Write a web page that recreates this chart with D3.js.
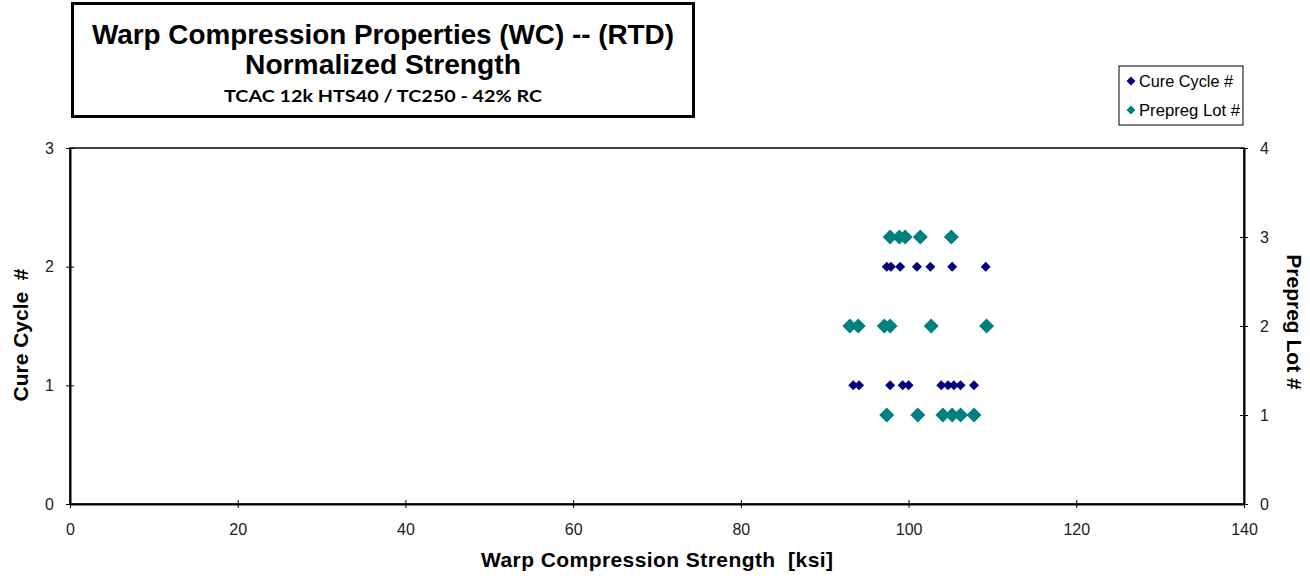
<!DOCTYPE html>
<html>
<head>
<meta charset="utf-8">
<script src="https://cdn.jsdelivr.net/npm/d3@7"></script>
<style>
  body { margin: 0; background: #fff; }
  text { font-family: "Liberation Sans", Arial, sans-serif; }
</style>
</head>
<body>
<div id="chart"></div>
<script>
"use strict";

// Cure cycle series (left axis)
var cureCycle1 = [93.4, 94.1, 97.8, 99.3, 100.0, 103.9, 104.7, 105.4, 106.2, 107.8];
var cureCycle2 = [97.4, 97.9, 99.0, 101.0, 102.6, 105.2, 109.2];
// Prepreg lot series (right axis)
var prepregLot1 = [97.4, 101.1, 104.1, 105.2, 106.2, 107.8];
var prepregLot2 = [93.0, 94.0, 97.1, 97.8, 102.7, 109.3];
var prepregLot3 = [97.8, 98.9, 99.6, 101.4, 105.1];

var xTicks = [0, 20, 40, 60, 80, 100, 120, 140];
var yLeftTicks = [0, 1, 2, 3];
var yRightTicks = [0, 1, 2, 3, 4];

var titleLines = ["Warp Compression Properties (WC) -- (RTD)", "Normalized Strength"];
var subTitle = "TCAC 12k HTS40 / TC250 - 42% RC";
var legendLabels = ["Cure Cycle #", "Prepreg Lot #"];
var colors = ["#000080", "#008080"];

var W = 1310, H = 576;
var margin = {top: 148, right: 66, bottom: 72, left: 70},
    width = W - margin.left - margin.right,
    height = H - margin.top - margin.bottom;

var svg = d3.select("#chart").append("svg")
    .attr("width", W)
    .attr("height", H);

var xScale = d3.scaleLinear().domain([0, 140]).range([0, width]);
var yLeft = d3.scaleLinear().domain([0, 3]).range([height, 0]);
var yRight = d3.scaleLinear().domain([0, 4]).range([height, 0]);

var g = svg.append("g")
    .attr("transform", "translate(" + margin.left + "," + margin.top + ")");

// plot frame
g.append("rect")
    .attr("width", width)
    .attr("height", height)
    .attr("fill", "none")
    .attr("stroke", "#000")
    .attr("stroke-width", 1.5);

function styleAxis(sel) {
    sel.select(".domain").attr("stroke", "#000").attr("stroke-width", 2);
    sel.selectAll(".tick line").attr("stroke", "#000").attr("stroke-width", 1);
    sel.selectAll(".tick text")
        .attr("fill", "#222")
        .style("font-size", "16px")
        .style("font-family", "'Liberation Sans', Arial, sans-serif");
}

var fmt = d3.format("d");

// ticks cross the axis line
var xAxis = d3.axisBottom(xScale).tickValues(xTicks).tickFormat(fmt)
    .tickSize(4).tickSizeOuter(0).tickPadding(16);
g.append("g")
    .attr("transform", "translate(0," + height + ")")
    .call(xAxis)
    .call(styleAxis)
    .call(function(a) {
        a.selectAll(".tick line").attr("y1", -4);
    });

var yAxisL = d3.axisLeft(yLeft).tickValues(yLeftTicks).tickFormat(fmt)
    .tickSize(4).tickSizeOuter(0).tickPadding(12);
g.append("g")
    .call(yAxisL)
    .call(styleAxis)
    .call(function(a) {
        a.selectAll(".tick line").attr("x1", 4);
    });

var yAxisR = d3.axisRight(yRight).tickValues(yRightTicks).tickFormat(fmt)
    .tickSize(4).tickSizeOuter(0).tickPadding(12);
g.append("g")
    .attr("transform", "translate(" + width + ",0)")
    .call(yAxisR)
    .call(styleAxis)
    .call(function(a) {
        a.selectAll(".tick line").attr("x1", -4);
    });

// points
var cureData = [];
cureCycle1.forEach(function(v) { cureData.push([v, 1]); });
cureCycle2.forEach(function(v) { cureData.push([v, 2]); });
var lotData = [];
prepregLot1.forEach(function(v) { lotData.push([v, 1]); });
prepregLot2.forEach(function(v) { lotData.push([v, 2]); });
prepregLot3.forEach(function(v) { lotData.push([v, 3]); });

function diamond(r) {
    return "M0," + (-r) + "L" + r + ",0L0," + r + "L" + (-r) + ",0Z";
}

g.append("g").selectAll("path")
    .data(lotData)
    .enter().append("path")
    .attr("d", diamond(7.5))
    .attr("transform", function(d) { return "translate(" + xScale(d[0]) + "," + yRight(d[1]) + ")"; })
    .attr("fill", colors[1]);

g.append("g").selectAll("path")
    .data(cureData)
    .enter().append("path")
    .attr("d", diamond(5))
    .attr("transform", function(d) { return "translate(" + xScale(d[0]) + "," + yLeft(d[1]) + ")"; })
    .attr("fill", colors[0]);

// axis titles
svg.append("text")
    .attr("x", 657)
    .attr("y", 567)
    .attr("text-anchor", "middle")
    .style("font-size", "21px")
    .style("font-weight", "bold")
    .style("white-space", "pre")
    .attr("textLength", 352)
    .text("Warp Compression Strength  [ksi]");

svg.append("text")
    .attr("transform", "translate(28,335) rotate(-90)")
    .attr("text-anchor", "middle")
    .style("font-size", "21px")
    .style("font-weight", "bold")
    .style("white-space", "pre")
    .text("Cure Cycle  #");

svg.append("text")
    .attr("transform", "translate(1287,322) rotate(90)")
    .attr("text-anchor", "middle")
    .style("font-size", "21px")
    .style("font-weight", "bold")
    .text("Prepreg Lot #");

// title box
svg.append("rect")
    .attr("x", 72.5)
    .attr("y", 3.5)
    .attr("width", 621)
    .attr("height", 113)
    .attr("fill", "#fff")
    .attr("stroke", "#000")
    .attr("stroke-width", 3);

svg.append("text")
    .attr("x", 383)
    .attr("y", 44)
    .attr("text-anchor", "middle")
    .style("font-size", "28px")
    .style("font-weight", "bold")
    .attr("textLength", 582)
    .attr("lengthAdjust", "spacingAndGlyphs")
    .text(titleLines[0]);

svg.append("text")
    .attr("x", 383)
    .attr("y", 74)
    .attr("text-anchor", "middle")
    .style("font-size", "28px")
    .style("font-weight", "bold")
    .attr("textLength", 276)
    .attr("lengthAdjust", "spacingAndGlyphs")
    .text(titleLines[1]);

svg.append("text")
    .attr("x", 383)
    .attr("y", 102)
    .attr("text-anchor", "middle")
    .style("font-size", "17px")
    .style("font-weight", "bold")
    .style("font-family", "Lato, 'Open Sans', sans-serif")
    .attr("textLength", 318)
    .attr("lengthAdjust", "spacingAndGlyphs")
    .text(subTitle);

// legend
var legend = svg.append("g").attr("transform", "translate(1119,66)");
legend.append("rect")
    .attr("width", 124)
    .attr("height", 59)
    .attr("fill", "#fff")
    .attr("stroke", "#000")
    .attr("stroke-width", 1);

var legendWidths = [94, 101];
legendLabels.forEach(function(lbl, i) {
    var yy = 15 + i * 29;
    legend.append("path")
        .attr("d", diamond(4.5))
        .attr("transform", "translate(12," + yy + ")")
        .attr("fill", colors[i]);
    legend.append("text")
        .attr("x", 20)
        .attr("y", yy + 6)
        .style("font-size", "16px")
        .attr("textLength", legendWidths[i])
        .attr("lengthAdjust", "spacingAndGlyphs")
        .text(lbl);
});
</script>
</body>
</html>
